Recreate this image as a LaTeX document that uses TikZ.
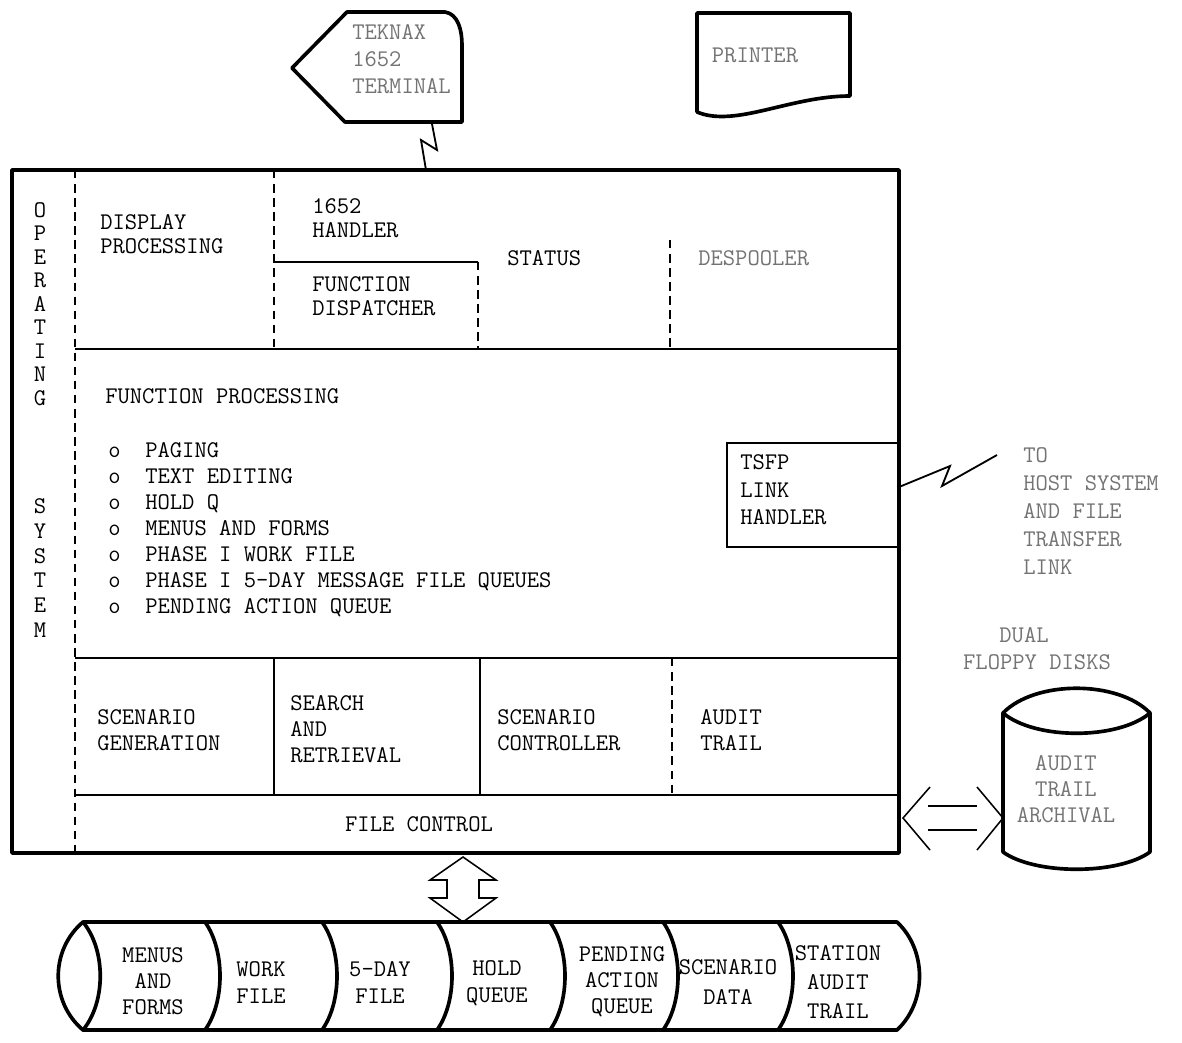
\documentclass[tikz,border=0pt]{standalone}
\usepackage{fontspec}
\usetikzlibrary{positioning,calc}

\begin{document}
\begin{tikzpicture}[
  x=0.025cm, y=-0.025cm,
  font=\ttfamily\fontsize{17}{18.5}\selectfont,
  heavy/.style={line width=2.6pt,line join=round,line cap=round},
  rule/.style={line width=1.1pt},
  dashln/.style={line width=0.8pt,dash pattern=on 6pt off 4pt},
  bolt/.style={line width=1.3pt},
  lbl/.style={inner sep=0pt,anchor=west,align=left},
  clbl/.style={inner sep=0pt,align=center},
  lsp/.style={font=\ttfamily\fontsize{17}{#1}\selectfont},
  faint/.style={text=black!55}
]
\useasboundingbox (0,0) rectangle (1182,1042);

% terminal and printer
\draw[heavy] (292,68) -- (347,12) -- (445,12) .. controls (458,14) and (462,30) .. (462,45) -- (462,122) -- (345,122) -- cycle;
\node[lbl,faint,lsp=19.4] (term) at (352,59) {TEKNAX\\1652\\TERMINAL};
\draw[heavy] (697,112) -- (697,13) -- (850,13) -- (850,96) .. controls (790,96) and (735,128) .. (697,112);
\node[clbl,faint] (prn) at (755,55) {PRINTER};

% main box
\draw[heavy] (12,170) rectangle (899,853);
\draw[dashln] (75,170) -- (75,853);
\draw[rule] (75,349) -- (899,349);
\draw[rule] (75,658) -- (899,658);
\draw[rule] (75,795) -- (899,795);
\draw[dashln] (274,170) -- (274,349);
\draw[rule] (274,262) -- (478,262);
\draw[dashln] (478,262) -- (478,349);
\draw[dashln] (670,240) -- (670,349);
\draw[rule] (274,658) -- (274,795);
\draw[rule] (480,658) -- (480,795);
\draw[dashln] (672,658) -- (672,795);
\draw[rule] (899,443) -- (727,443) -- (727,547) -- (899,547);

\node[clbl,lsp=16.7] (osA) at (40,304) {O\\P\\E\\R\\A\\T\\I\\N\\G};
\node[clbl,lsp=17.6] (osB) at (40,568) {S\\Y\\S\\T\\E\\M};

\node[lbl,lsp=17] (disp) at (100,234) {DISPLAY\\PROCESSING};
\node[lbl,lsp=17.5] (hand) at (312,218) {1652\\HANDLER};
\node[lbl,lsp=17.5] (fdisp) at (312,296) {FUNCTION\\DISPATCHER};
\node[lbl] (status) at (507,258) {STATUS};
\node[lbl,faint] (despool) at (698,258) {DESPOOLER};

\node[lbl] (fproc) at (105,396) {FUNCTION PROCESSING};
\node[lbl] (dots) at (108,530) {o\\o\\o\\o\\o\\o\\o};
\node[lbl] (items) at (145,530) {PAGING\\TEXT EDITING\\HOLD Q\\MENUS AND FORMS\\PHASE I WORK FILE\\PHASE I 5-DAY MESSAGE FILE QUEUES\\PENDING ACTION QUEUE};
\node[lbl,lsp=19.6] (tsfp) at (740,490) {TSFP\\LINK\\HANDLER};

\node[lbl] (scgen) at (97,730) {SCENARIO\\GENERATION};
\node[lbl] (search) at (290,729) {SEARCH\\AND\\RETRIEVAL};
\node[lbl] (sccon) at (497,730) {SCENARIO\\CONTROLLER};
\node[lbl] (audit) at (700,730) {AUDIT\\TRAIL};
\node[clbl] (fctl) at (419,824) {FILE CONTROL};

% links
\coordinate (termS) at (432,124);
\coordinate (boxT) at (426,170);
\draw[bolt] (termS) -- ++(5,26) -- ++(-16,-10) -- (boxT);
\coordinate (tsfpE) at (899,487);
\coordinate (linkEnd) at (997,455);
\draw[bolt] (tsfpE) -- (950,466) -- (942,486) -- (linkEnd);
\node[lbl,faint,lsp=19.9] (remote) at (1023,511) {TO\\HOST SYSTEM\\AND FILE\\TRANSFER\\LINK};

% archival disk
\node[clbl,faint] (dual) at (1024,635) {DUAL};
\node[clbl,faint] (floppy) at (1037,662) {FLOPPY DISKS};
\draw[heavy] (1003,713) .. controls (1035,680) and (1118,680) .. (1150,713);
\draw[heavy] (1003,713) .. controls (1035,740) and (1118,740) .. (1150,713);
\draw[heavy] (1003,713) -- (1003,852) .. controls (1035,875) and (1118,875) .. (1150,852) -- (1150,713);
\node[clbl,faint] (arch) at (1066,789) {AUDIT\\TRAIL\\ARCHIVAL};

\coordinate (boxE) at (903,818);
\coordinate (cylW) at (1003,818);
\draw[rule] ($(boxE)+(27,-31)$) -- (boxE) -- ($(boxE)+(27,32)$);
\draw[rule] ($(cylW)+(-26,-31)$) -- (cylW) -- ($(cylW)+(-26,32)$);
\draw[rule] (928,806) -- (977,806);
\draw[rule] (928,830) -- (977,830);

\coordinate (boxS) at (463,857);
\coordinate (tapeN) at (463,922);
\draw[rule] (boxS) -- (496,880) -- (479,880) -- (479,898) -- (496,898) -- (tapeN) -- (430,898) -- (447,898) -- (447,880) -- (430,880) -- cycle;

% file tape
\draw[heavy] (83,922) -- (897,922) .. controls (927,950) and (927,1002) .. (897,1030) -- (83,1030) .. controls (50,1002) and (50,950) .. (83,922);
\draw[heavy] (83,922) .. controls (106,950) and (106,1002) .. (83,1030);
\draw[heavy] (205,922) .. controls (225,950) and (225,1002) .. (205,1030);
\draw[heavy] (322,922) .. controls (342,950) and (342,1002) .. (322,1030);
\draw[heavy] (437,922) .. controls (457,950) and (457,1002) .. (437,1030);
\draw[heavy] (550,922) .. controls (570,950) and (570,1002) .. (550,1030);
\draw[heavy] (663,922) .. controls (683,950) and (683,1002) .. (663,1030);
\draw[heavy] (778,922) .. controls (798,950) and (798,1002) .. (778,1030);

\node[clbl] (menus) at (153,981) {MENUS\\AND\\FORMS};
\node[clbl,lsp=19.2] (work) at (261,983) {WORK\\FILE};
\node[clbl,lsp=19.2] (fiveday) at (380,983) {5-DAY\\FILE};
\node[clbl,lsp=19.2] (holdq) at (497,983) {HOLD\\QUEUE};
\node[clbl] (pend) at (622,982) {PENDING\\ACTION\\QUEUE};
\node[clbl,lsp=21] (scdata) at (728,982) {SCENARIO\\DATA};
\node[clbl,lsp=20.5] (station) at (838,982) {STATION\\AUDIT\\TRAIL};
\end{tikzpicture}
\end{document}
